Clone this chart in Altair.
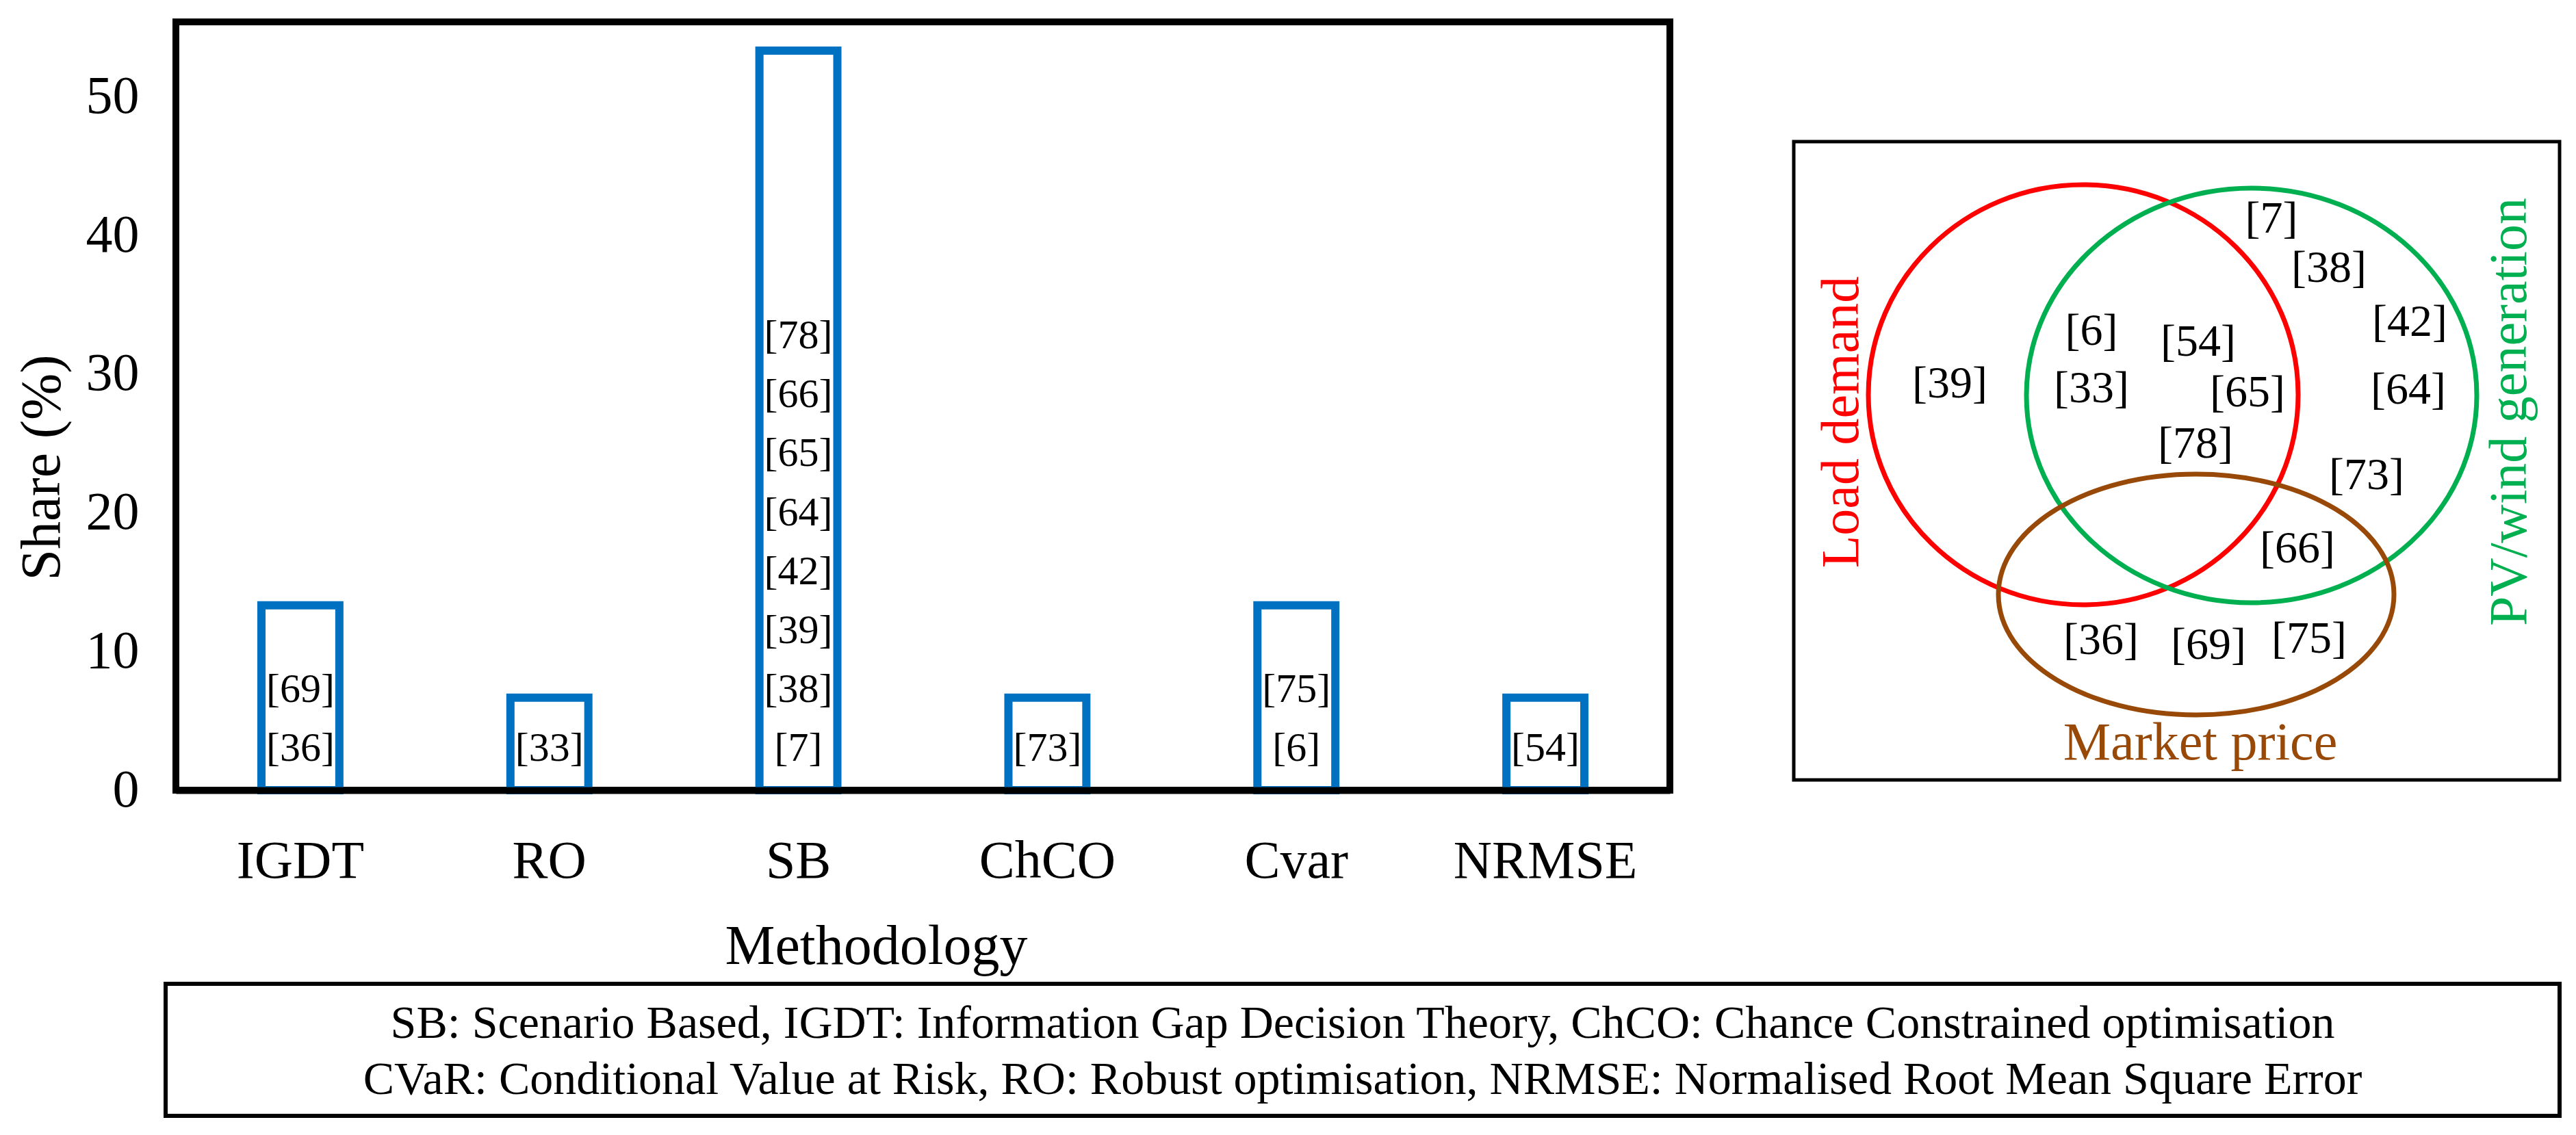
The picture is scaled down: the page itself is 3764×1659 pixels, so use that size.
import altair as alt
import pandas as pd

FONT = "Liberation Serif"

# ---------------- data ----------------
methods = ["IGDT", "RO", "SB", "ChCO", "Cvar", "NRMSE"]
shares = [13.33, 6.67, 53.33, 6.67, 13.33, 6.67]

refs_igdt = ["[36]", "[69]"]
refs_ro = ["[33]"]
refs_sb = ["[7]", "[38]", "[39]", "[42]", "[64]", "[65]", "[66]", "[78]"]
refs_chco = ["[73]"]
refs_cvar = ["[6]", "[75]"]
refs_nrmse = ["[54]"]
refs_lists = [refs_igdt, refs_ro, refs_sb, refs_chco, refs_cvar, refs_nrmse]

venn_sets = ["Load demand", "PV/wind generation", "Market price"]
venn_colors = ["#FF0000", "#00B050", "#984807"]
venn_refs = ["[7]", "[38]", "[42]", "[6]", "[54]", "[39]", "[33]", "[65]",
             "[64]", "[78]", "[73]", "[66]", "[36]", "[69]", "[75]"]

footnote_lines = [
    "SB: Scenario Based, IGDT: Information Gap Decision Theory, ChCO: Chance Constrained optimisation",
    "CVaR: Conditional Value at Risk, RO: Robust optimisation, NRMSE: Normalised Root Mean Square Error",
]

# ---------------- layout (page pixel coordinates of the diagram parts) ----------------
PLOT_W, PLOT_H = 2183, 1123
PAD_L, PAD_T = 249, 24          # plot origin inside the svg (page margin is 8px)
SVG_W, SVG_H = 3748, 1643

venn_box = dict(x=2621, x2=3740, y=207, y2=1140)
ell_cx = [3044, 3290, 3209]
ell_cy = [577, 578, 869]
ell_rx = [314, 329, 289]
ell_ry = [307, 303, 176]
ref_x = [3319, 3403, 3521, 3056, 3212, 2849, 3056, 3284, 3519, 3208, 3458, 3357, 3070, 3227, 3374]
ref_y = [320, 392, 471, 484, 500, 561, 568, 574, 570, 649, 695, 802, 936, 943, 934]
set_x = [2692, 3668, 3215]
set_y = [617, 602, 1087]
set_angle = [270, 270, 0]
foot_box = dict(x=242, x2=3740, y=1438, y2=1631)
foot_x = [1991, 1991]
foot_y = [1497, 1579]


def ellipse_path(b):
    k = 0.5523
    return (f"M1,0 C1,{k*b:.4f} {k:.4f},{b:.4f} 0,{b:.4f} "
            f"C{-k:.4f},{b:.4f} -1,{k*b:.4f} -1,0 "
            f"C-1,{-k*b:.4f} {-k:.4f},{-b:.4f} 0,{-b:.4f} "
            f"C{k:.4f},{-b:.4f} 1,{-k*b:.4f} 1,0 Z")


# ---------------- bar chart ----------------
bar_df = pd.DataFrame({"Methodology": methods, "Share": shares})
lab_rows = []
for m, refs in zip(methods, refs_lists):
    for i, r in enumerate(refs):
        lab_rows.append({"Methodology": m, "ref": r, "row": i})
lab_df = pd.DataFrame(lab_rows)

x_scale = alt.Scale(paddingInner=0.687, paddingOuter=0.3435)
y_scale = alt.Scale(domain=[0, 55.4], nice=False, zero=True)

x_axis = alt.Axis(
    title="Methodology", labelAngle=0, labelFont=FONT, labelFontSize=78,
    labelColor="black", labelPadding=104, labelBaseline="middle", labelLimit=1000,
    ticks=False, tickSize=0, domain=True, domainColor="black", domainWidth=10,
    zindex=1, titleFont=FONT, titleFontSize=82, titleFontWeight="normal",
    titleColor="black", titleX=1023, titleY=228, titleBaseline="middle",
    titleAlign="center", grid=False,
)
y_axis = alt.Axis(
    title="Share (%)", values=[0, 10, 20, 30, 40, 50], labelFont=FONT,
    labelFontSize=78, labelColor="black", labelPadding=54, ticks=False,
    tickSize=0, domain=False, grid=False, titleFont=FONT, titleFontSize=82,
    titleFontWeight="normal", titleColor="black", titleAngle=270,
    titleX=-196, titleY=651, titleAlign="center", titleBaseline="middle",
)

bars = alt.Chart(bar_df).mark_bar(
    fill="white", stroke="#0070C0", strokeWidth=12
).encode(
    x=alt.X("Methodology:N", sort=methods, scale=x_scale, axis=x_axis),
    y=alt.Y("Share:Q", scale=y_scale, axis=y_axis),
)

bar_labels = alt.Chart(lab_df).transform_calculate(
    pos="3.0 + 4.25 * datum.row"
).mark_text(font=FONT, fontSize=60, color="black", baseline="middle").encode(
    x=alt.X("Methodology:N", sort=methods, scale=x_scale, axis=x_axis),
    y=alt.Y("pos:Q", scale=y_scale, axis=y_axis),
    text="ref:N",
)

bar_group = alt.layer(bars, bar_labels)

# ---------------- decorations (Venn diagram + footnote) ----------------
px = alt.Scale(domain=[0, 3764], range=[-(PAD_L + 8), 3764 - (PAD_L + 8)])
py = alt.Scale(domain=[0, 1659], range=[-(PAD_T + 8), 1659 - (PAD_T + 8)])


def X(f):
    return alt.X(f, type="quantitative", scale=px, axis=None)


def Y(f):
    return alt.Y(f, type="quantitative", scale=py, axis=None)


boxes_df = pd.DataFrame([
    dict(**venn_box, w=5),
    dict(**foot_box, w=6),
])
boxes = alt.Chart(boxes_df).mark_rect(fillOpacity=0, stroke="black").encode(
    x=X("x"), x2="x2", y=Y("y"), y2="y2",
    strokeWidth=alt.StrokeWidth("w:Q", scale=None),
)

ell_df = pd.DataFrame({
    "set": venn_sets,
    "color": venn_colors,
    "cx": ell_cx,
    "cy": ell_cy,
    "size": [(2 * r) ** 2 for r in ell_rx],
    "shape": [ellipse_path(ry / rx) for rx, ry in zip(ell_rx, ell_ry)],
})
ellipses = alt.Chart(ell_df).mark_point(filled=False, strokeWidth=7, opacity=1).encode(
    x=X("cx"), y=Y("cy"),
    size=alt.Size("size:Q", scale=None),
    shape=alt.Shape("shape:N", scale=None),
    color=alt.Color("color:N", scale=None),
)

ref_df = pd.DataFrame({"ref": venn_refs, "x": ref_x, "y": ref_y})
ref_text = alt.Chart(ref_df).mark_text(
    font=FONT, fontSize=66, color="black", baseline="middle", align="center"
).encode(x=X("x"), y=Y("y"), text="ref:N")

set_df = pd.DataFrame({"set": venn_sets, "color": venn_colors, "x": set_x,
                       "y": set_y, "angle": set_angle})
set_text = alt.Chart(set_df).mark_text(
    font=FONT, fontSize=78, baseline="middle", align="center"
).encode(
    x=X("x"), y=Y("y"), text="set:N",
    color=alt.Color("color:N", scale=None),
    angle=alt.Angle("angle:Q", scale=None),
)

foot_df = pd.DataFrame({"line": footnote_lines, "x": foot_x, "y": foot_y})
foot_text = alt.Chart(foot_df).mark_text(
    font=FONT, fontSize=68, color="black", baseline="middle", align="center"
).encode(x=X("x"), y=Y("y"), text="line:N")

decor = alt.layer(boxes, ellipses, ref_text, set_text, foot_text)

chart = alt.layer(bar_group, decor).resolve_scale(
    x="independent", y="independent"
).properties(
    width=PLOT_W,
    height=PLOT_H,
    padding={"left": PAD_L, "top": PAD_T,
             "right": SVG_W - PAD_L - PLOT_W, "bottom": SVG_H - PAD_T - PLOT_H},
    autosize=alt.AutoSizeParams(type="none"),
    background="white",
).configure_view(stroke="black", strokeWidth=10)

chart.save("out.html", embed_options={"renderer": "svg", "actions": False})
